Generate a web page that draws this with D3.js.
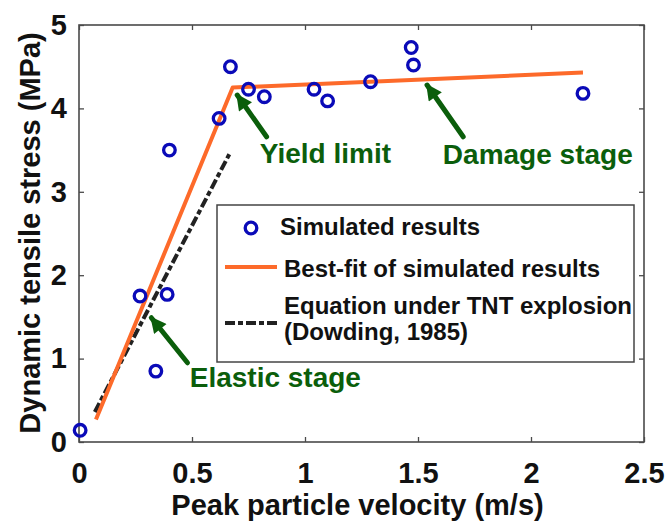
<!DOCTYPE html>
<html>
<head>
<meta charset="utf-8">
<script src="https://cdn.jsdelivr.net/npm/d3@7"></script>
<style>
  body { margin: 0; background: #fff; }
  text { font-family: "Liberation Sans", Arial, sans-serif; font-weight: bold; }
</style>
</head>
<body>
<div id="chart"></div>
<script>
// simulated results (peak particle velocity vs dynamic tensile stress)
const ppv    = [0.005, 0.27, 0.34, 0.39, 0.40, 0.62, 0.67, 0.75, 0.82, 1.04, 1.10, 1.29, 1.47, 1.48, 2.23];
const stress = [0.14, 1.75, 0.85, 1.77, 3.50, 3.88, 4.50, 4.23, 4.14, 4.23, 4.09, 4.32, 4.73, 4.52, 4.18];

// best-fit (bilinear) of simulated results
const fitX = [0.075, 0.68, 2.23];
const fitY = [0.27, 4.25, 4.43];

// equation under TNT explosion (Dowding, 1985)
const dowX = [0.07, 0.665];
const dowY = [0.36, 3.45];

const xTicks = [0, 0.5, 1, 1.5, 2, 2.5];
const yTicks = [0, 1, 2, 3, 4, 5];

const legendLabels = ["Simulated results", "Best-fit of simulated results",
    "Equation under TNT explosion", "(Dowding, 1985)"];

// annotations: label, text anchor [x, y], arrow tail, arrow tip (data units)
const notes = [
    { label: "Yield limit",   text: [0.80, 3.35], tail: [0.83, 3.66], tip: [0.70, 4.16] },
    { label: "Damage stage",  text: [1.61, 3.33], tail: [1.70, 3.66], tip: [1.54, 4.28] },
    { label: "Elastic stage", text: [0.49, 0.66], tail: [0.48, 0.95], tip: [0.32, 1.49] }
];

const W = 667, H = 523;
const margin = { top: 25, right: 23, bottom: 81, left: 79 },
    width = W - margin.left - margin.right,
    height = H - margin.top - margin.bottom;

const blue = "#0a0ab8", orange = "#fd6a2a", green = "#0b5e0b", axisCol = "#4a4a4a";

const svg = d3.select("#chart").append("svg")
    .attr("width", W)
    .attr("height", H);

const g = svg.append("g")
    .attr("transform", "translate(" + margin.left + "," + margin.top + ")");

const x = d3.scaleLinear().domain([0, 2.5]).range([0, width]);
const y = d3.scaleLinear().domain([0, 5]).range([height, 0]);

// axes with inward ticks, mirrored on top and right
const fmt = d => d3.format("~g")(d);
const xAxis = g.append("g")
    .attr("transform", "translate(0," + height + ")")
    .call(d3.axisBottom(x).tickValues(xTicks).tickFormat(fmt).tickSizeInner(-5).tickSizeOuter(0).tickPadding(20));
const yAxis = g.append("g")
    .call(d3.axisLeft(y).tickValues(yTicks).tickFormat(fmt).tickSizeInner(-5).tickSizeOuter(0).tickPadding(12));
const xTop = g.append("g")
    .call(d3.axisTop(x).tickValues(xTicks).tickFormat("").tickSizeInner(-5).tickSizeOuter(0));
const yRight = g.append("g")
    .attr("transform", "translate(" + width + ",0)")
    .call(d3.axisRight(y).tickValues(yTicks).tickFormat("").tickSizeInner(-5).tickSizeOuter(0));

[xAxis, yAxis, xTop, yRight].forEach(a => {
    a.select(".domain").remove();
    a.selectAll(".tick line").attr("stroke", axisCol).attr("stroke-width", 1.3);
    a.selectAll(".tick text").attr("fill", "#111").style("font-size", "29px")
        .style("font-family", "'Liberation Sans', Arial, sans-serif").style("font-weight", "bold");
});

g.append("rect")
    .attr("width", width).attr("height", height)
    .attr("fill", "none").attr("stroke", axisCol).attr("stroke-width", 1.6);

// axis titles
svg.append("text")
    .attr("x", margin.left + x(1.25) - 4)
    .attr("y", 515)
    .attr("text-anchor", "middle")
    .style("font-size", "29px")
    .attr("fill", "#111")
    .text("Peak particle velocity (m/s)");

svg.append("text")
    .attr("transform", "translate(40," + 233 + ") rotate(-90)")
    .attr("text-anchor", "middle")
    .style("font-size", "29px")
    .attr("fill", "#111")
    .text("Dynamic tensile stress (MPa)");

// lines
const line = d3.line().x(d => x(d[0])).y(d => y(d[1]));

g.append("path")
    .datum(dowX.map((v, i) => [v, dowY[i]]))
    .attr("d", line)
    .attr("fill", "none")
    .attr("stroke", "#222")
    .attr("stroke-width", 4)
    .attr("stroke-dasharray", "10,3,5,3");

g.append("path")
    .datum(fitX.map((v, i) => [v, fitY[i]]))
    .attr("d", line)
    .attr("fill", "none")
    .attr("stroke", orange)
    .attr("stroke-width", 4)
    .attr("stroke-linejoin", "round");

// simulated points
g.selectAll(".pt")
    .data(ppv.map((v, i) => [v, stress[i]]))
    .enter().append("circle")
    .attr("class", "pt")
    .attr("cx", d => x(d[0]))
    .attr("cy", d => y(d[1]))
    .attr("r", 5.8)
    .attr("fill", "none")
    .attr("stroke", blue)
    .attr("stroke-width", 3.3);

// annotations with arrows
svg.append("defs").append("marker")
    .attr("id", "head")
    .attr("viewBox", "0 0 10 10")
    .attr("refX", 9).attr("refY", 5)
    .attr("markerUnits", "userSpaceOnUse")
    .attr("markerWidth", 18).attr("markerHeight", 16)
    .attr("orient", "auto")
    .append("path")
    .attr("d", "M0,0 L10,5 L0,10 Z")
    .attr("fill", green);

notes.forEach(n => {
    g.append("line")
        .attr("x1", x(n.tail[0])).attr("y1", y(n.tail[1]))
        .attr("x2", x(n.tip[0])).attr("y2", y(n.tip[1]))
        .attr("stroke", green)
        .attr("stroke-width", 5)
        .attr("stroke-linecap", "round")
        .attr("marker-end", "url(#head)");
    g.append("text")
        .attr("x", x(n.text[0]))
        .attr("y", y(n.text[1]))
        .attr("fill", green)
        .style("font-size", "28px")
        .text(n.label);
});

// legend
const lg = svg.append("g");
lg.append("rect")
    .attr("x", 217).attr("y", 205)
    .attr("width", 417).attr("height", 157)
    .attr("fill", "#fff")
    .attr("stroke", "#444")
    .attr("stroke-width", 1.5);

lg.append("circle")
    .attr("cx", 251).attr("cy", 228).attr("r", 5.8)
    .attr("fill", "none").attr("stroke", blue).attr("stroke-width", 3.3);
lg.append("line")
    .attr("x1", 225).attr("x2", 277).attr("y1", 267).attr("y2", 267)
    .attr("stroke", orange).attr("stroke-width", 4);
lg.append("line")
    .attr("x1", 225).attr("x2", 277).attr("y1", 323).attr("y2", 323)
    .attr("stroke", "#222").attr("stroke-width", 4)
    .attr("stroke-dasharray", "10,3,5,3");

const legendPos = [[280, 235], [284, 277], [284, 314], [284, 340]];
legendLabels.forEach((t, i) => {
    lg.append("text")
        .attr("x", legendPos[i][0])
        .attr("y", legendPos[i][1])
        .attr("fill", "#111")
        .style("font-size", "24px")
        .text(t);
});
</script>
</body>
</html>
